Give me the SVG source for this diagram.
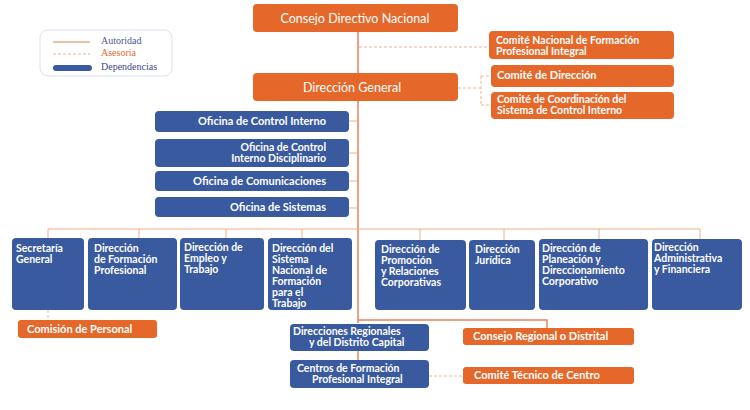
<svg xmlns="http://www.w3.org/2000/svg" width="750" height="410" viewBox="0 0 750 410">
<style>
.org{fill:#E5682A}
.blu{fill:#3A5A9F}
.t{font-family:Lato,"Liberation Sans",sans-serif;fill:#fff;font-weight:bold;font-size:10.5px}
.s{font-size:11px}
.tl{font-family:Lato,"Liberation Sans",sans-serif;fill:#fff;font-size:12.5px}
.auth{stroke:#F0AE88;stroke-width:1;fill:none}
.main{stroke:#E5845A;stroke-width:1.5;fill:none}
.adv{stroke:#F0B496;stroke-width:1;stroke-dasharray:3,2;fill:none}
.lg{font-family:"Liberation Serif",serif;font-size:10px}
</style>
<rect width="750" height="410" fill="#fff"/>
<g id="legend">
<rect x="40" y="30" width="132" height="46" rx="8" fill="#fff" stroke="#D9E3F0"/>
<line x1="53" y1="42" x2="90" y2="42" stroke="#EBAA88" stroke-width="1.5"/>
<line x1="53" y1="54" x2="90" y2="54" class="adv"/>
<line x1="56" y1="68" x2="89" y2="68" stroke="#3A5A9F" stroke-width="6" stroke-linecap="round"/>
<text x="101" y="44" class="lg" fill="#4A5A90">Autoridad</text>
<text x="101" y="56" class="lg" fill="#E5682A">Asesoria</text>
<text x="101" y="70" class="lg" fill="#3A4A8A">Dependencias</text>
</g>
<g id="connectors">
<path class="main" d="M358,32 V323 M358,320 H547 V328 M358,351 V360"/>
<path class="adv" d="M359,47 H489 M458,88 H481 M481,76 V105 M481,76 H491 M481,105 H491 M429,376 H463 M48,310 V320"/>
<path class="auth" d="M349,121 H358 M349,153 H358 M349,181 H358 M349,208 H358"/>
<path class="auth" d="M48,229 H700 M48,229 V238 M139,229 V238 M226,229 V238 M302,229 V238 M420,229 V240 M504,229 V240 M599,229 V239 M700,229 V239"/>
</g>
<g id="consejo"><rect class="org" x="253" y="4" width="205" height="28" rx="4"/><text class="tl" x="355" y="22.5" text-anchor="middle">Consejo Directivo Nacional</text></g>
<g id="direccion-general"><rect class="org" x="253" y="73" width="205" height="28" rx="4"/><text class="tl" x="352" y="91.5" text-anchor="middle">Dirección General</text></g>
<g id="comite-nacional"><rect class="org" x="489" y="31" width="185" height="28" rx="4"/><text class="t" x="496" y="44">Comité Nacional de Formación</text><text class="t" x="496" y="55">Profesional Integral</text></g>
<g id="comite-direccion"><rect class="org" x="491" y="65" width="183" height="22" rx="4"/><text class="t s" x="497" y="79">Comité de Dirección</text></g>
<g id="comite-coordinacion"><rect class="org" x="491" y="92" width="183" height="27" rx="4"/><text class="t" x="497" y="103">Comité de Coordinación del</text><text class="t" x="497" y="114">Sistema de Control Interno</text></g>
<g id="control-interno"><rect class="blu" x="155" y="111" width="194" height="21" rx="4"/><text class="t s" x="326" y="125" text-anchor="end">Oficina de Control Interno</text></g>
<g id="control-disciplinario"><rect class="blu" x="155" y="139" width="194" height="28" rx="4"/><text class="t" x="326" y="151" text-anchor="end">Oficina de Control</text><text class="t" x="326" y="162" text-anchor="end">Interno Disciplinario</text></g>
<g id="comunicaciones"><rect class="blu" x="155" y="171" width="194" height="20" rx="4"/><text class="t s" x="326" y="185" text-anchor="end">Oficina de Comunicaciones</text></g>
<g id="sistemas"><rect class="blu" x="155" y="197" width="194" height="20" rx="4"/><text class="t s" x="326" y="211" text-anchor="end">Oficina de Sistemas</text></g>
<g id="secretaria"><rect class="blu" x="12" y="238" width="72" height="72" rx="4"/><text class="t" x="16" y="252">Secretaría</text><text class="t" x="16" y="263">General</text></g>
<g id="formacion"><rect class="blu" x="88" y="238" width="89" height="72" rx="4"/><text class="t" x="94" y="252">Dirección</text><text class="t" x="94" y="263">de Formación</text><text class="t" x="94" y="274">Profesional</text></g>
<g id="empleo"><rect class="blu" x="180" y="238" width="84" height="72" rx="4"/><text class="t" x="184" y="251">Dirección de</text><text class="t" x="184" y="262">Empleo y</text><text class="t" x="184" y="273">Trabajo</text></g>
<g id="sistema-nacional"><rect class="blu" x="268" y="238" width="84" height="72" rx="4"/><text class="t" x="272" y="252">Dirección del</text><text class="t" x="272" y="263">Sistema</text><text class="t" x="272" y="274">Nacional de</text><text class="t" x="272" y="285">Formación</text><text class="t" x="272" y="296">para el</text><text class="t" x="272" y="307">Trabajo</text></g>
<g id="promocion"><rect class="blu" x="375" y="240" width="91" height="70" rx="4"/><text class="t" x="381" y="253">Dirección de</text><text class="t" x="381" y="264">Promoción</text><text class="t" x="381" y="275">y Relaciones</text><text class="t" x="381" y="286">Corporativas</text></g>
<g id="juridica"><rect class="blu" x="469" y="240" width="66" height="70" rx="4"/><text class="t" x="475" y="253">Dirección</text><text class="t" x="475" y="264">Jurídica</text></g>
<g id="planeacion"><rect class="blu" x="539" y="239" width="109" height="71" rx="4"/><text class="t" x="542" y="252">Dirección de</text><text class="t" x="542" y="263">Planeación y</text><text class="t" x="542" y="274">Direccionamiento</text><text class="t" x="542" y="285">Corporativo</text></g>
<g id="administrativa"><rect class="blu" x="652" y="239" width="90" height="71" rx="4"/><text class="t" x="654" y="251">Dirección</text><text class="t" x="654" y="262">Administrativa</text><text class="t" x="654" y="273">y Financiera</text></g>
<g id="comision"><rect class="org" x="18" y="320" width="139" height="18" rx="3"/><text class="t s" x="27" y="333">Comisión de Personal</text></g>
<g id="regionales"><rect class="blu" x="290" y="324" width="139" height="27" rx="4"/><text class="t" x="293" y="335">Direcciones Regionales</text><text class="t" x="309" y="346">y del Distrito Capital</text></g>
<g id="centros"><rect class="blu" x="290" y="360" width="139" height="28" rx="4"/><text class="t" x="297" y="372">Centros de Formación</text><text class="t" x="312" y="383">Profesional Integral</text></g>
<g id="consejo-regional"><rect class="org" x="463" y="328" width="171" height="17" rx="3"/><text class="t s" x="473" y="340">Consejo Regional o Distrital</text></g>
<g id="comite-tecnico"><rect class="org" x="463" y="367" width="171" height="17" rx="3"/><text class="t s" x="474" y="379">Comité Técnico de Centro</text></g>
</svg>
